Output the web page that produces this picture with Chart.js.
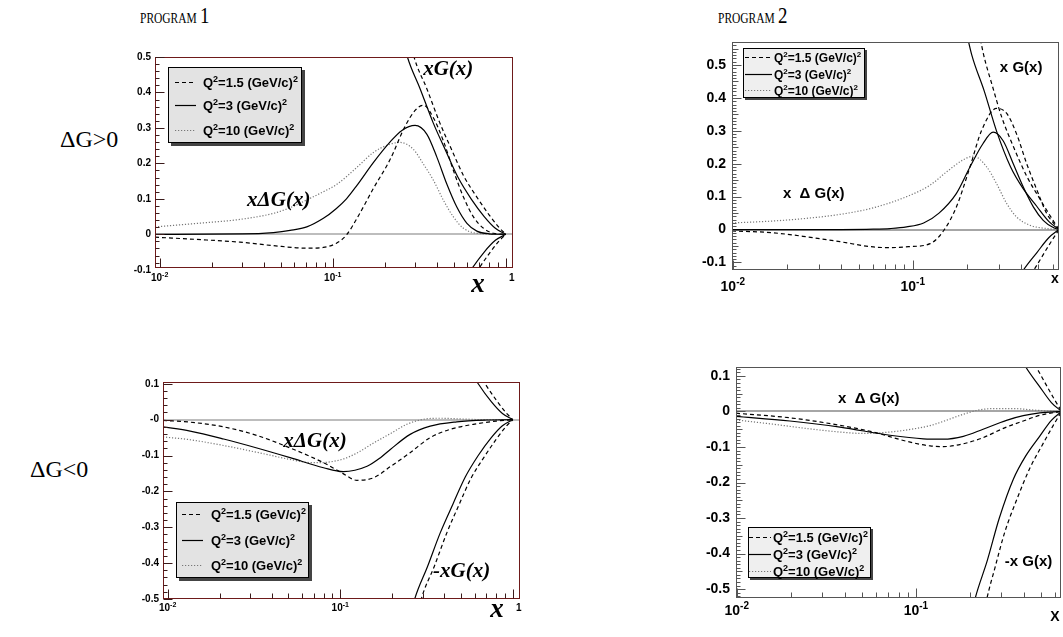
<!DOCTYPE html>
<html>
<head>
<meta charset="utf-8">
<title>x&Delta;G(x) for two programs</title>
<script src="https://cdn.jsdelivr.net/npm/chart.js@4.4.1/dist/chart.umd.min.js"></script>
<style>
  body { margin: 0; background: #fff; }
  #page { position: relative; width: 1063px; height: 637px; overflow: hidden; font-family: "Liberation Serif", "DejaVu Serif", serif; }
  .lbl { position: absolute; white-space: nowrap; color: #000; line-height: 1; }
  .ttl { transform: scaleX(0.82); transform-origin: left top; }
  canvas { position: absolute; }
</style>
</head>
<body>
<div id="page">
  <div class="lbl ttl" style="left:140px;top:4px"><span style="font-size:14px">PROGRAM</span> <span style="font-size:23px">1</span></div>
  <div class="lbl ttl" style="left:718px;top:4px"><span style="font-size:14px">PROGRAM</span> <span style="font-size:23px">2</span></div>
  <div class="lbl" style="left:60px;top:127px;font-size:24px">&Delta;G&gt;0</div>
  <div class="lbl" style="left:30px;top:457px;font-size:24px">&Delta;G&lt;0</div>
  <canvas id="c1"></canvas>
  <canvas id="c2"></canvas>
  <canvas id="c3"></canvas>
  <canvas id="c4"></canvas>
</div>
<script>
// ---- Program 1, dG > 0 : x*dG(x) for Q^2 = 1.5, 3, 10 ----
const p1PosDashX = [0.0094, 0.0187, 0.0291, 0.0454, 0.0708, 0.0883, 0.105, 0.12, 0.138, 0.172, 0.214, 0.262, 0.30, 0.334, 0.382, 0.436, 0.498, 0.569, 0.65, 0.743, 0.849, 1.0];
const p1PosDashY = [-0.008, -0.016, -0.022, -0.032, -0.039, -0.037, -0.025, -0.002, 0.045, 0.13, 0.21, 0.305, 0.35, 0.364, 0.328, 0.263, 0.18, 0.105, 0.049, 0.017, 0.003, 0];
const p1PosSolidX = [0.0094, 0.03, 0.0454, 0.0567, 0.0708, 0.0883, 0.105, 0.12, 0.138, 0.172, 0.214, 0.251, 0.299, 0.35, 0.40, 0.456, 0.521, 0.596, 0.68, 0.8, 1.0];
const p1PosSolidY = [0.0, 0.001, 0.005, 0.011, 0.021, 0.045, 0.073, 0.10, 0.138, 0.203, 0.26, 0.293, 0.307, 0.282, 0.217, 0.142, 0.077, 0.031, 0.009, 0.0015, 0];
const p1PosDotX = [0.0094, 0.0187, 0.0291, 0.0454, 0.0567, 0.0708, 0.0883, 0.105, 0.138, 0.172, 0.214, 0.245, 0.292, 0.334, 0.382, 0.436, 0.498, 0.569, 0.68, 1.0];
const p1PosDotY = [0.021, 0.033, 0.042, 0.059, 0.075, 0.097, 0.12, 0.14, 0.189, 0.231, 0.254, 0.259, 0.24, 0.198, 0.152, 0.096, 0.049, 0.017, 0.003, 0];

// ---- Program 1, dG < 0 ----
const p1NegDashX = [0.0094, 0.0135, 0.0211, 0.0329, 0.0513, 0.08, 0.102, 0.125, 0.156, 0.195, 0.254, 0.332, 0.433, 0.59, 0.8, 1.0];
const p1NegDashY = [-0.002, -0.007, -0.02, -0.044, -0.079, -0.12, -0.148, -0.169, -0.162, -0.131, -0.092, -0.05, -0.027, -0.013, -0.004, 0];
const p1NegSolidX = [0.0094, 0.0135, 0.0211, 0.0329, 0.0513, 0.08, 0.104, 0.143, 0.171, 0.195, 0.254, 0.332, 0.473, 0.7, 1.0];
const p1NegSolidY = [-0.02, -0.032, -0.054, -0.079, -0.106, -0.134, -0.145, -0.13, -0.106, -0.083, -0.041, -0.018, -0.006, -0.001, 0];
const p1NegDotX = [0.0094, 0.0135, 0.0211, 0.0329, 0.0513, 0.0641, 0.075, 0.102, 0.125, 0.156, 0.195, 0.243, 0.303, 0.379, 0.5, 0.7, 1.0];
const p1NegDotY = [-0.048, -0.056, -0.072, -0.091, -0.111, -0.119, -0.12, -0.111, -0.093, -0.065, -0.039, -0.013, 0.001, 0.004, 0.002, 0.0, 0];

// ---- Program 1, unpolarised x*G(x) (drawn as +xG and -xG) ----
const p1GDashX = [0.26, 0.295, 0.35, 0.415, 0.49, 0.57, 0.68, 0.8, 0.91, 1.0];
const p1GDashY = [0.62, 0.5, 0.41, 0.315, 0.235, 0.165, 0.105, 0.055, 0.02, 0];
const p1GSolidX = [0.24, 0.27, 0.32, 0.38, 0.45, 0.53, 0.63, 0.75, 0.87, 1.0];
const p1GSolidY = [0.6, 0.5, 0.41, 0.315, 0.235, 0.16, 0.1, 0.05, 0.017, 0];

// ---- Program 2, dG > 0 ----
const p2PosDashX = [0.0099, 0.0168, 0.0257, 0.0394, 0.0604, 0.075, 0.095, 0.125, 0.15, 0.175, 0.208, 0.241, 0.292, 0.333, 0.378, 0.43, 0.49, 0.555, 0.62, 0.65];
const p2PosDashY = [-0.004, -0.01, -0.022, -0.037, -0.053, -0.055, -0.052, -0.043, 0.0, 0.069, 0.19, 0.30, 0.368, 0.353, 0.29, 0.2, 0.12, 0.049, 0.013, 0];
const p2PosSolidX = [0.0099, 0.04, 0.0604, 0.075, 0.0925, 0.115, 0.14, 0.175, 0.208, 0.245, 0.28, 0.318, 0.362, 0.411, 0.468, 0.531, 0.604, 0.65];
const p2PosSolidY = [0.0, 0.0, 0.001, 0.003, 0.008, 0.02, 0.05, 0.11, 0.19, 0.26, 0.296, 0.27, 0.2, 0.13, 0.069, 0.028, 0.006, 0];
const p2PosDotX = [0.0099, 0.0168, 0.0257, 0.0394, 0.0604, 0.0925, 0.125, 0.154, 0.191, 0.217, 0.258, 0.292, 0.333, 0.378, 0.448, 0.555, 0.65];
const p2PosDotY = [0.02, 0.026, 0.034, 0.046, 0.066, 0.1, 0.135, 0.175, 0.212, 0.223, 0.19, 0.14, 0.079, 0.038, 0.013, 0.003, 0];

// ---- Program 2, dG < 0 ----
const p2NegDashX = [0.0099, 0.0198, 0.0377, 0.0578, 0.0887, 0.12, 0.142, 0.169, 0.228, 0.32, 0.397, 0.491, 0.65];
const p2NegDashY = [-0.005, -0.018, -0.039, -0.058, -0.084, -0.097, -0.099, -0.095, -0.077, -0.044, -0.027, -0.011, 0];
const p2NegSolidX = [0.0099, 0.0198, 0.0377, 0.0716, 0.11, 0.142, 0.184, 0.237, 0.32, 0.397, 0.491, 0.65];
const p2NegSolidY = [-0.014, -0.027, -0.044, -0.067, -0.077, -0.078, -0.07, -0.05, -0.025, -0.012, -0.004, 0];
const p2NegDotX = [0.0099, 0.016, 0.0245, 0.0377, 0.0508, 0.0716, 0.1, 0.12, 0.142, 0.184, 0.22, 0.27, 0.35, 0.45, 0.55, 0.65];
const p2NegDotY = [-0.024, -0.036, -0.048, -0.058, -0.062, -0.058, -0.048, -0.04, -0.028, -0.008, 0.003, 0.008, 0.008, 0.004, 0.001, 0];

// ---- Program 2, x*G(x) ----
const p2GDashX = [0.23, 0.248, 0.276, 0.313, 0.364, 0.432, 0.513, 0.583, 0.65];
const p2GDashY = [0.62, 0.53, 0.44, 0.34, 0.25, 0.16, 0.09, 0.04, 0];
const p2GSolidX = [0.195, 0.213, 0.25, 0.292, 0.35, 0.41, 0.49, 0.57, 0.65];
const p2GSolidY = [0.62, 0.53, 0.42, 0.3, 0.19, 0.125, 0.07, 0.025, 0];

// ---- tick labels / legend ----
const xTickVals = [0.01, 0.1, 1];
const xTickExps = ['-2', '-1', null];
const yTicksUpper = [-0.1, 0, 0.1, 0.2, 0.3, 0.4, 0.5];
const yTicksLower = [-0.5, -0.4, -0.3, -0.2, -0.1, 0, 0.1];
const q2Values = ['1.5', '3', '10'];

// ---------------------------------------------------------------
const pts = (xs, ys, sign = 1) => xs.map((x, i) => ({ x: x, y: sign * ys[i] }));

const lineStyles = {
    dash: { borderColor: '#000', borderDash: [4, 3], borderWidth: 1.2 },
    solid: { borderColor: '#000', borderDash: [], borderWidth: 1.2 },
    dot: { borderColor: '#777', borderDash: [1.2, 1.8], borderWidth: 1.2 }
};
const legendOrder = ['dash', 'solid', 'dot'];

function ds(data, style) {
    return Object.assign({ data: data, pointRadius: 0, fill: false }, lineStyles[style]);
}

const sans = (px, bold = true) => `${bold ? 'bold ' : ''}${px}px "Liberation Sans", Arial, sans-serif`;
const serifBI = px => `italic bold ${px}px "Liberation Serif", "Times New Roman", serif`;

// panel layout (page pixels)
const panels = {
    c1: {
        L: 115, T: 45, W: 415, H: 255, area: [155, 57, 513, 268],
        xRange: [0.0094, 1.1], yRange: [-0.095, 0.5], yTicks: yTicksUpper, negZero: false,
        frame: '#6e1a1a', tickColor: '#3a1a1a', zero: ['#bdbdbd', 2],
        yMinor: 0.02, yMid: false, tickFont: 10, yLabelGap: 4, xLabelY: 277, showOne: true,
        axisTitle: { text: 'x', font: serifBI(27), x: 478, y: 292 },
        notes: [
            { text: 'xG(x)', x: 0.333, y: 0.45, font: serifBI(21) },
            { text: 'x\u0394G(x)', x: 0.032, y: 0.081, font: serifBI(21) }
        ],
        legend: { x: 168, y: 67, w: 134, h: 76, rows: [82, 105, 130], line: [175, 196], tx: 203, font: 13, fill: '#e3e3e3', shadow: 3 }
    },
    c2: {
        L: 690, T: 30, W: 373, H: 270, area: [732, 42, 1059, 270],
        xRange: [0.0099, 0.65], yRange: [-0.123, 0.57], yTicks: yTicksUpper, negZero: false,
        frame: '#555', tickColor: '#555', zero: ['#888', 1.5],
        yMinor: 0.01, yMid: true, tickFont: 14, yLabelGap: 6, xLabelY: 285, showOne: false,
        axisTitle: { text: 'x', font: sans(14), x: 1055, y: 283 },
        notes: [
            { text: 'x G(x)', x: 0.305, y: 0.478, font: sans(15) },
            { text: 'x  \u0394 G(x)', x: 0.019, y: 0.095, font: sans(15) }
        ],
        legend: { x: 743, y: 48, w: 122, h: 50, rows: [57, 74, 90], line: [745, 772], tx: 774, font: 12, fill: '#efefef', shadow: 2 }
    },
    c3: {
        L: 115, T: 370, W: 415, H: 262, area: [163, 382, 520, 599],
        xRange: [0.0094, 1.1], yRange: [-0.5, 0.105], yTicks: yTicksLower, negZero: true,
        frame: '#6e1a1a', tickColor: '#3a1a1a', zero: ['#bdbdbd', 2],
        yMinor: 0.02, yMid: false, tickFont: 10, yLabelGap: 4, xLabelY: 607, showOne: true,
        axisTitle: { text: 'x', font: serifBI(27), x: 497, y: 617 },
        notes: [
            { text: 'x\u0394G(x)', x: 0.0468, y: -0.075, font: serifBI(21) },
            { text: '-xG(x)', x: 0.345, y: -0.439, font: serifBI(21) }
        ],
        legend: { x: 176, y: 502, w: 133, h: 76, rows: [514, 540, 565], line: [182, 203], tx: 211, font: 13, fill: '#e3e3e3', shadow: 3 }
    },
    c4: {
        L: 690, T: 355, W: 373, H: 282, area: [736, 367, 1061, 598],
        xRange: [0.0099, 0.645], yRange: [-0.525, 0.125], yTicks: yTicksLower, negZero: false,
        frame: '#555', tickColor: '#555', zero: ['#888', 1.5],
        yMinor: 0.01, yMid: true, tickFont: 14, yLabelGap: 6, xLabelY: 609, showOne: false,
        axisTitle: { text: 'X', font: sans(14), x: 1055, y: 621 },
        notes: [
            { text: 'x  \u0394 G(x)', x: 0.0367, y: 0.025, font: sans(15) },
            { text: '-x G(x)', x: 0.313, y: -0.434, font: sans(15) }
        ],
        legend: { x: 748, y: 527, w: 123, h: 51, rows: [537, 554, 571], line: [749, 771], tx: 773, font: 13, fill: '#efefef', shadow: 2 }
    }
};

// text made of normal and superscript runs
function drawRich(ctx, parts, x, y, px, align) {
    const supPx = Math.round(px * 0.7);
    const widths = parts.map(([t, sup]) => {
        ctx.font = sans(sup ? supPx : px);
        return ctx.measureText(t).width;
    });
    const total = widths.reduce((a, b) => a + b, 0);
    let cx = align === 'right' ? x - total : align === 'center' ? x - total / 2 : x;
    ctx.textAlign = 'left';
    ctx.textBaseline = 'alphabetic';
    parts.forEach(([t, sup], i) => {
        ctx.font = sans(sup ? supPx : px);
        ctx.fillText(t, cx, sup ? y - px * 0.42 : y);
        cx += widths[i];
    });
}

const rootFrame = {
    id: 'rootFrame',
    beforeDatasetsDraw(chart) {
        const cfg = panels[chart.canvas.id];
        const { ctx, chartArea: a } = chart;
        const y0 = Math.round(chart.scales.y.getPixelForValue(0));
        ctx.save();
        ctx.strokeStyle = cfg.zero[0];
        ctx.lineWidth = cfg.zero[1];
        ctx.beginPath();
        ctx.moveTo(a.left, y0);
        ctx.lineTo(a.right, y0);
        ctx.stroke();
        ctx.restore();
    },
    afterDraw(chart) {
        const cfg = panels[chart.canvas.id];
        const { ctx, chartArea: a } = chart;
        const xs = chart.scales.x, ys = chart.scales.y;
        const L = Math.round(a.left) + 0.5, R = Math.round(a.right) - 0.5;
        const T = Math.round(a.top) + 0.5, B = Math.round(a.bottom) - 0.5;
        ctx.save();

        // frame
        ctx.strokeStyle = cfg.frame;
        ctx.lineWidth = 1;
        ctx.strokeRect(L, T, R - L, B - T);

        // x ticks (log, drawn inward)
        ctx.strokeStyle = cfg.tickColor;
        ctx.beginPath();
        for (let d = -3; d <= 0; d++) {
            for (let m = 1; m <= 9; m++) {
                const v = m * Math.pow(10, d);
                if (v < cfg.xRange[0] || v > cfg.xRange[1]) continue;
                const px = Math.round(xs.getPixelForValue(v)) + 0.5;
                const len = m === 1 ? 9 : 5;
                ctx.moveTo(px, B);
                ctx.lineTo(px, B - len);
            }
        }
        // y ticks
        const n0 = Math.ceil(cfg.yRange[0] / cfg.yMinor - 1e-6);
        const n1 = Math.floor(cfg.yRange[1] / cfg.yMinor + 1e-6);
        for (let n = n0; n <= n1; n++) {
            const v = n * cfg.yMinor;
            const py = Math.round(ys.getPixelForValue(v)) + 0.5;
            const r10 = Math.abs(v * 10 - Math.round(v * 10)) < 1e-6;
            const r20 = Math.abs(v * 20 - Math.round(v * 20)) < 1e-6;
            const len = r10 ? 9 : (cfg.yMid && r20) ? 6 : 4;
            ctx.moveTo(L, py);
            ctx.lineTo(L + len, py);
        }
        ctx.stroke();

        // y tick labels
        ctx.fillStyle = '#000';
        cfg.yTicks.forEach(v => {
            const py = ys.getPixelForValue(v);
            let s = v === 0 ? (cfg.negZero ? '-0' : '0') : String(v);
            ctx.font = sans(cfg.tickFont);
            ctx.textAlign = 'right';
            ctx.textBaseline = 'middle';
            ctx.fillText(s, a.left - cfg.yLabelGap, py);
        });

        // x tick labels
        const baseX = cfg.xLabelY - chart.canvas.offsetTop + cfg.tickFont * 0.4;
        xTickVals.forEach((v, i) => {
            if (v > cfg.xRange[1] && !(cfg.showOne && v === 1)) return;
            const px = xs.getPixelForValue(v);
            if (xTickExps[i] === null) {
                if (cfg.showOne) drawRich(ctx, [['1', false]], px + 6, baseX, cfg.tickFont, 'center');
            } else {
                drawRich(ctx, [['10', false], [xTickExps[i], true]], px, baseX, cfg.tickFont, 'center');
            }
        });

        // axis title
        const off = [chart.canvas.offsetLeft, chart.canvas.offsetTop];
        ctx.font = cfg.axisTitle.font;
        ctx.textAlign = 'center';
        ctx.textBaseline = 'alphabetic';
        ctx.fillText(cfg.axisTitle.text, cfg.axisTitle.x - off[0], cfg.axisTitle.y - off[1]);

        // curve annotations, placed in data coordinates
        cfg.notes.forEach(n => {
            ctx.font = n.font;
            ctx.textAlign = 'left';
            ctx.fillText(n.text, xs.getPixelForValue(n.x), ys.getPixelForValue(n.y));
        });

        // legend box with shadow
        const lg = cfg.legend;
        const bx = lg.x - off[0], by = lg.y - off[1];
        ctx.fillStyle = '#444';
        ctx.fillRect(bx + lg.shadow, by + lg.shadow, lg.w, lg.h);
        ctx.fillStyle = lg.fill;
        ctx.fillRect(bx, by, lg.w, lg.h);
        ctx.strokeStyle = '#000';
        ctx.lineWidth = 1;
        ctx.setLineDash([]);
        ctx.strokeRect(bx + 0.5, by + 0.5, lg.w - 1, lg.h - 1);
        legendOrder.forEach((st, i) => {
            const ry = Math.round(lg.rows[i] - off[1]) + 0.5;
            const s = lineStyles[st];
            ctx.strokeStyle = s.borderColor;
            ctx.lineWidth = s.borderWidth;
            ctx.setLineDash(s.borderDash);
            ctx.beginPath();
            ctx.moveTo(lg.line[0] - off[0], ry);
            ctx.lineTo(lg.line[1] - off[0], ry);
            ctx.stroke();
            ctx.setLineDash([]);
            ctx.fillStyle = '#000';
            drawRich(ctx, [['Q', false], ['2', true], ['=' + q2Values[i] + ' (GeV/c)', false], ['2', true]],
                lg.tx - off[0], ry + lg.font * 0.36, lg.font, 'left');
        });
        ctx.restore();
    }
};

function makeChart(id, datasets) {
    const cfg = panels[id];
    const cv = document.getElementById(id);
    cv.width = cfg.W;
    cv.height = cfg.H;
    cv.style.left = cfg.L + 'px';
    cv.style.top = cfg.T + 'px';
    return new Chart(cv.getContext('2d'), {
        type: 'line',
        data: { datasets: datasets },
        options: {
            responsive: false,
            animation: false,
            devicePixelRatio: 1,
            layout: { padding: { left: 0, top: cfg.area[1] - cfg.T, right: cfg.L + cfg.W - cfg.area[2], bottom: 0 } },
            plugins: { legend: { display: false }, tooltip: { enabled: false } },
            elements: { line: { cubicInterpolationMode: 'monotone' }, point: { radius: 0 } },
            scales: {
                x: {
                    type: 'logarithmic', min: cfg.xRange[0], max: cfg.xRange[1],
                    ticks: { display: false }, grid: { display: false }, border: { display: false },
                    afterFit: s => { s.height = cfg.T + cfg.H - cfg.area[3]; }
                },
                y: {
                    type: 'linear', min: cfg.yRange[0], max: cfg.yRange[1],
                    ticks: { display: false }, grid: { display: false }, border: { display: false },
                    afterFit: s => { s.width = cfg.area[0] - cfg.L; }
                }
            }
        },
        plugins: [rootFrame]
    });
}

// Program 1, dG>0
makeChart('c1', [
    ds(pts(p1PosDashX, p1PosDashY), 'dash'),
    ds(pts(p1PosSolidX, p1PosSolidY), 'solid'),
    ds(pts(p1PosDotX, p1PosDotY), 'dot'),
    ds(pts(p1GDashX, p1GDashY), 'dash'),
    ds(pts(p1GSolidX, p1GSolidY), 'solid'),
    ds(pts(p1GDashX, p1GDashY, -1), 'dash'),
    ds(pts(p1GSolidX, p1GSolidY, -1), 'solid')
]);
// Program 2, dG>0
makeChart('c2', [
    ds(pts(p2PosDashX, p2PosDashY), 'dash'),
    ds(pts(p2PosSolidX, p2PosSolidY), 'solid'),
    ds(pts(p2PosDotX, p2PosDotY), 'dot'),
    ds(pts(p2GDashX, p2GDashY), 'dash'),
    ds(pts(p2GSolidX, p2GSolidY), 'solid'),
    ds(pts(p2GDashX, p2GDashY, -1), 'dash'),
    ds(pts(p2GSolidX, p2GSolidY, -1), 'solid')
]);
// Program 1, dG<0
makeChart('c3', [
    ds(pts(p1NegDashX, p1NegDashY), 'dash'),
    ds(pts(p1NegSolidX, p1NegSolidY), 'solid'),
    ds(pts(p1NegDotX, p1NegDotY), 'dot'),
    ds(pts(p1GDashX, p1GDashY), 'dash'),
    ds(pts(p1GSolidX, p1GSolidY), 'solid'),
    ds(pts(p1GDashX, p1GDashY, -1), 'dash'),
    ds(pts(p1GSolidX, p1GSolidY, -1), 'solid')
]);
// Program 2, dG<0
makeChart('c4', [
    ds(pts(p2NegDashX, p2NegDashY), 'dash'),
    ds(pts(p2NegSolidX, p2NegSolidY), 'solid'),
    ds(pts(p2NegDotX, p2NegDotY), 'dot'),
    ds(pts(p2GDashX, p2GDashY), 'dash'),
    ds(pts(p2GSolidX, p2GSolidY), 'solid'),
    ds(pts(p2GDashX, p2GDashY, -1), 'dash'),
    ds(pts(p2GSolidX, p2GSolidY, -1), 'solid')
]);
</script>
</body>
</html>
